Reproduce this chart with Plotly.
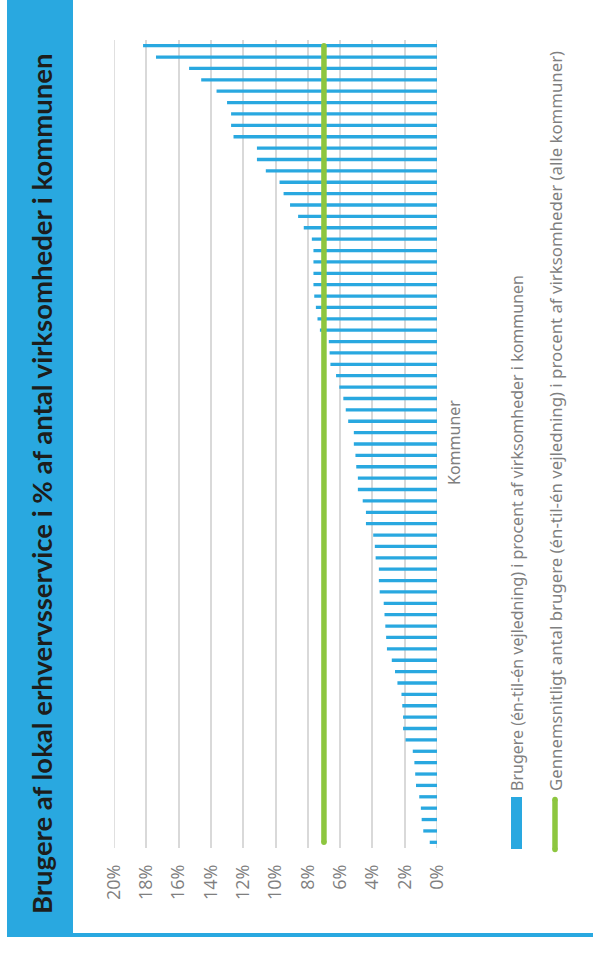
import plotly.graph_objects as go

# ---------------- data ----------------
values = [18.2, 17.4, 15.35, 14.6, 13.65, 13.0, 12.75, 12.75, 12.6, 11.15,
          11.15, 10.6, 9.75, 9.5, 9.1, 8.6, 8.25, 7.75, 7.65, 7.65,
          7.65, 7.65, 7.6, 7.5, 7.4, 7.25, 6.7, 6.65, 6.6, 6.25,
          6.05, 5.8, 5.65, 5.5, 5.15, 5.15, 5.05, 5.0, 4.9, 4.9,
          4.6, 4.4, 4.4, 3.95, 3.85, 3.8, 3.6, 3.6, 3.55, 3.3,
          3.25, 3.2, 3.15, 3.1, 2.8, 2.6, 2.45, 2.2, 2.15, 2.1,
          2.1, 1.95, 1.5, 1.4, 1.35, 1.3, 1.1, 1.0, 0.95, 0.85, 0.45]
kommuner = ["Kommune %d" % (i + 1) for i in range(len(values))]
average = 7.0
tick_vals = [0, 2, 4, 6, 8, 10, 12, 14, 16, 18, 20]
tick_text = ["0%", "2%", "4%", "6%", "8%", "10%", "12%", "14%", "16%", "18%", "20%"]

title_text = "Brugere af lokal erhvervsservice i % af antal virksomheder i kommunen"
axis_title = "Kommuner"
legend_bar = "Brugere (én-til-én vejledning) i procent af virksomheder i kommunen"
legend_line = "Gennemsnitligt antal brugere (én-til-én vejledning) i procent af virksomheder (alle kommuner)"

BLUE = "#29A8E0"
GREEN = "#8DC63F"
GRAY = "#7F7F7F"
GRID = "#D9D9D9"

W, H = 593, 953
L, R, T, B = 114, 437, 40, 848


def px(x):
    return (x - L) / (R - L)


def py(y):
    return (B - y) / (B - T)


n = len(kommuner)

fig = go.Figure()
fig.add_trace(go.Bar(
    x=values, y=kommuner, orientation="h",
    marker=dict(color=BLUE, line=dict(width=0)),
    showlegend=False, hoverinfo="x",
))
fig.add_trace(go.Scatter(
    x=[average] * n, y=kommuner, mode="lines",
    line=dict(color=GREEN, width=5.5),
    showlegend=False, hoverinfo="skip",
))
# rounded caps for the average line
fig.add_trace(go.Scatter(
    x=[average, average], y=[kommuner[0], kommuner[-1]], mode="markers",
    marker=dict(color=GREEN, size=5.5, line=dict(width=0)),
    showlegend=False, hoverinfo="skip",
))

shapes = [
    # left blue panel
    dict(type="rect", xref="paper", yref="paper", x0=px(7), x1=px(73), y0=py(937), y1=py(-5),
         fillcolor=BLUE, line=dict(width=0), layer="below"),
    # bottom blue line
    dict(type="rect", xref="paper", yref="paper", x0=px(73), x1=px(600), y0=py(937), y1=py(933),
         fillcolor=BLUE, line=dict(width=0), layer="below"),
    # legend markers
    dict(type="rect", xref="paper", yref="paper", x0=px(511), x1=px(522), y0=py(849), y1=py(797),
         fillcolor=BLUE, line=dict(width=0)),
    dict(type="line", xref="paper", yref="paper", x0=px(555), x1=px(555), y0=py(849.5), y1=py(799.5),
         line=dict(color=GREEN, width=5.5)),
    dict(type="circle", xref="paper", yref="paper", x0=px(552.25), x1=px(557.75), y0=py(852.25), y1=py(846.75),
         fillcolor=GREEN, line=dict(width=0)),
    dict(type="circle", xref="paper", yref="paper", x0=px(552.25), x1=px(557.75), y0=py(802.25), y1=py(796.75),
         fillcolor=GREEN, line=dict(width=0)),
]
# edge gridlines (0% and 20%) that plotly omits at the plot border
for gv in (tick_vals[0], tick_vals[-1]):
    shapes.append(dict(type="line", xref="x", yref="paper", x0=gv, x1=gv, y0=0, y1=1,
                       line=dict(color=GRID, width=1.6), layer="below"))

annotations = [
    dict(text="<b>%s</b>" % title_text, xref="paper", yref="paper", x=px(41), y=py(484),
         textangle=-90, showarrow=False, xanchor="center", yanchor="middle",
         font=dict(family="Lato", size=27.5, color="#1D1D1B")),
    dict(text=axis_title, xref="paper", yref="paper", x=px(454), y=py(443),
         textangle=-90, showarrow=False, xanchor="center", yanchor="middle",
         font=dict(family="Noto Sans", size=16, color=GRAY)),
    dict(text=legend_bar, xref="paper", yref="paper", x=px(517), y=py(793),
         textangle=-90, showarrow=False, xanchor="center", yanchor="bottom",
         font=dict(family="Noto Sans", size=16, color=GRAY)),
    dict(text=legend_line, xref="paper", yref="paper", x=px(555), y=py(793),
         textangle=-90, showarrow=False, xanchor="center", yanchor="bottom",
         font=dict(family="Noto Sans", size=16.8, color=GRAY)),
]

fig.update_layout(
    width=W, height=H,
    margin=dict(l=L, r=W - R, t=T, b=H - B, pad=0),
    paper_bgcolor="white", plot_bgcolor="white",
    bargap=0.71,
    showlegend=False,
    shapes=shapes,
    annotations=annotations,
    font=dict(family="Open Sans", color=GRAY),
    xaxis=dict(
        range=[20, 0], tickvals=tick_vals, ticktext=tick_text,
        tickangle=-90, ticks="", ticklabelstandoff=12,
        tickfont=dict(family="Open Sans", size=18, color=GRAY),
        showgrid=True, gridcolor=GRID, gridwidth=1.6,
        zeroline=False, showline=False, fixedrange=True,
    ),
    yaxis=dict(
        type="category", range=[n - 0.5, -0.5], showticklabels=False,
        ticks="", showgrid=False, zeroline=False, showline=False, fixedrange=True,
    ),
)

fig.write_html("out.html")
